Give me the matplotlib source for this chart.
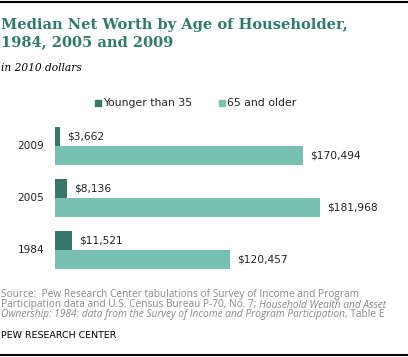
import matplotlib
matplotlib.use("Agg")
import matplotlib.pyplot as plt
from matplotlib.patches import Rectangle

# data
years = ["2009", "2005", "1984"]
younger = [3662, 8136, 11521]
older = [170494, 181968, 120457]
series_names = ["Younger than 35", "65 and older"]

DARK = "#377869"
LIGHT = "#78c0b0"
TITLE_C = "#2f7a6b"
W, H = 408, 357


def fx(px):
    return px / W


def fy(py):
    return 1 - py / H


fig = plt.figure(figsize=(W / 100, H / 100), dpi=100)

# rules top and bottom
fig.add_artist(plt.Line2D([0, 1], [fy(1.5), fy(1.5)], color="black", lw=1.5))
fig.add_artist(plt.Line2D([0, 1], [fy(354.5), fy(354.5)], color="black", lw=1.5))

# title block
fig.text(fx(1), fy(25), "Median Net Worth by Age of Householder,", fontsize=10.5,
         fontweight="bold", family="DejaVu Serif", color=TITLE_C, va="center")
fig.text(fx(1), fy(42), "1984, 2005 and 2009", fontsize=10.5,
         fontweight="bold", family="DejaVu Serif", color=TITLE_C, va="center")
fig.text(fx(1), fy(68), "in 2010 dollars", fontsize=7.7, style="italic",
         family="DejaVu Serif", color="black", va="center")

# legend
for sx, tx, c, name in [(95, 103, DARK, series_names[0]), (219, 227, LIGHT, series_names[1])]:
    fig.add_artist(Rectangle((fx(sx), fy(106)), 6 / W, 6 / H, color=c,
                             transform=fig.transFigure))
    fig.text(fx(tx), fy(103), name, fontsize=7.8, color="#222222", va="center")

# bars
scale = 0.001455  # px per dollar
left, right = 55, 400
top, bottom = 120, 275
ax = fig.add_axes([fx(left), fy(bottom), (right - left) / W, (bottom - top) / H])
ax.set_xlim(0, (right - left) / scale)
ax.set_ylim((bottom - 146) / 52, (top - 146) / 52)
h = 19 / 52
pos = list(range(len(years)))
ax.barh([p - h / 2 for p in pos], younger, height=h, color=DARK)
ax.barh([p + h / 2 for p in pos], older, height=h, color=LIGHT)
off = 7 / scale
for p, v in zip(pos, younger):
    ax.text(v + off, p - h / 2, f"${v:,}", va="center", ha="left", fontsize=7.7, color="#222222")
for p, v in zip(pos, older):
    ax.text(v + off, p + h / 2, f"${v:,}", va="center", ha="left", fontsize=7.7, color="#222222")
for p, y in zip(pos, years):
    ax.text(-11 / scale, p, y, va="center", ha="right", fontsize=7.6, color="#222222")
ax.axis("off")

# source note, mixed normal/italic segments
src_lines = [
    [("Source:  Pew Research Center tabulations of Survey of Income and Program", "normal")],
    [("Participation data and U.S. Census Bureau P-70, No. 7; ", "normal"),
     ("Household Wealth and Asset", "italic")],
    [("Ownership: 1984: data from the Survey of Income and Program Participation", "italic"),
     (", Table E", "normal")],
]
src_y = [295, 305, 315]
fig.canvas.draw()
renderer = fig.canvas.get_renderer()
for segs, y in zip(src_lines, src_y):
    x = fx(1)
    for txt, st in segs:
        t = fig.text(x, fy(y), txt, fontsize=7.3, style=st, family="Open Sans",
                     color="#888888", va="center")
        bb = t.get_window_extent(renderer)
        x += bb.width / fig.bbox.width

fig.text(fx(1), fy(336), "PEW RESEARCH CENTER", fontsize=6.8, family="DejaVu Sans",
         color="black", va="center")

fig.savefig("out.png", dpi=100)
